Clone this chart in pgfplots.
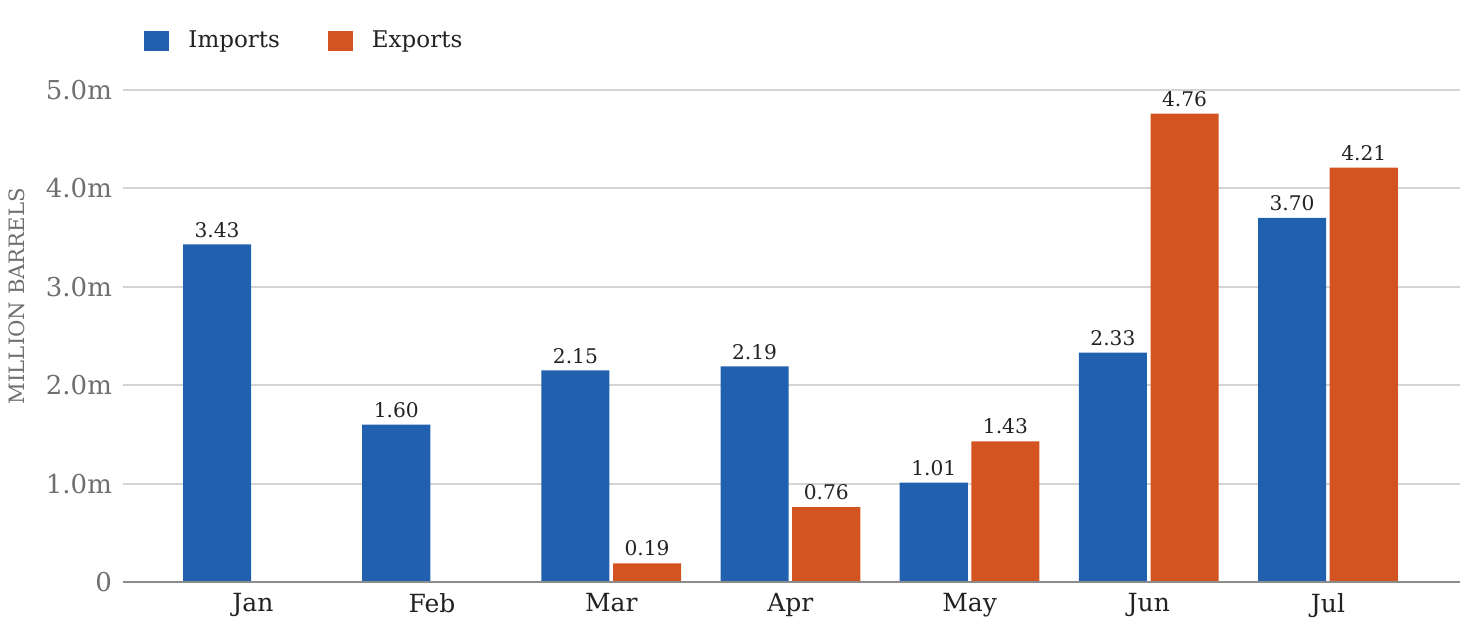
\documentclass[border=0pt]{standalone}
\usepackage{pgfplots}
\pgfplotsset{compat=1.18}
\usetikzlibrary{calc}
\usepackage{fontspec}
\setmainfont{DejaVu Serif}
\definecolor{imp}{HTML}{2160AE}
\definecolor{exp}{HTML}{D35420}
\definecolor{gridc}{HTML}{D4D4D4}
\definecolor{tickc}{HTML}{6F6F6F}
\definecolor{txt}{HTML}{222222}
\begin{document}
\begin{tikzpicture}
\begin{axis}[
  scale only axis,
  width=668.5pt, height=246pt,
  xmin=-0.725, xmax=6.737,
  ymin=0, ymax=5,
  axis line style={draw=none},
  ybar, bar width=0.38,
  /pgf/number format/assume math mode=true,
  xtick={0,1,2,3,4,5,6},
  xticklabels={Jan,Feb,Mar,Apr,May,Jun,Jul},
  ytick={0,1,2,3,4,5},
  yticklabels={0,1.0m,2.0m,3.0m,4.0m,5.0m},
  major tick length=0pt,
  ymajorgrids, grid style={gridc, line width=1pt},
  yticklabel style={font=\fontsize{13}{15}\selectfont, text=tickc, xshift=-2pt},
  xticklabel style={font=\fontsize{12.5}{14}\selectfont, text=txt, yshift=-2pt},
  nodes near coords,
  nodes near coords style={font=\fontsize{10.1}{12}\selectfont, text=txt, /pgf/number format/.cd, fixed, fixed zerofill, precision=2, assume math mode=true},
  legend style={at={(0.0165,1)}, anchor=west, xshift=-3.5pt, yshift=24.5pt, draw=none, fill=none,
    legend columns=2, font=\fontsize{11.5}{14}\selectfont, text=txt,
    /tikz/every odd column/.append style={column sep=7.5pt},
    /tikz/every even column/.append style={column sep=22pt}},
  legend image code/.code={\fill[#1] (0pt,-5pt) rectangle (12.5pt,5pt);},
  clip=false,
]
\addplot[fill=imp, draw=none, bar shift=-0.2] coordinates {(0,3.43) (1,1.60) (2,2.15) (3,2.19) (4,1.01) (5,2.33) (6,3.70)};
\addlegendentry{Imports}
\addplot[fill=exp, draw=none, bar shift=0.2] coordinates {(2,0.19) (3,0.76) (4,1.43) (5,4.76) (6,4.21)};
\addlegendentry{Exports}
\draw[color=gray!90, line width=1pt] (rel axis cs:0,0) -- (rel axis cs:1,0);
\node[xshift=-53pt, rotate=90, font=\fontsize{10.6}{13}\selectfont, text=tickc] at (rel axis cs:0,0.581) {MILLION BARRELS};
\end{axis}
\pgfresetboundingbox
\path[use as bounding box] ($(current axis.south west)+(-61.5pt,-24pt)$) rectangle ($(current axis.north east)+(5pt,45pt)$);
\end{tikzpicture}
\end{document}
